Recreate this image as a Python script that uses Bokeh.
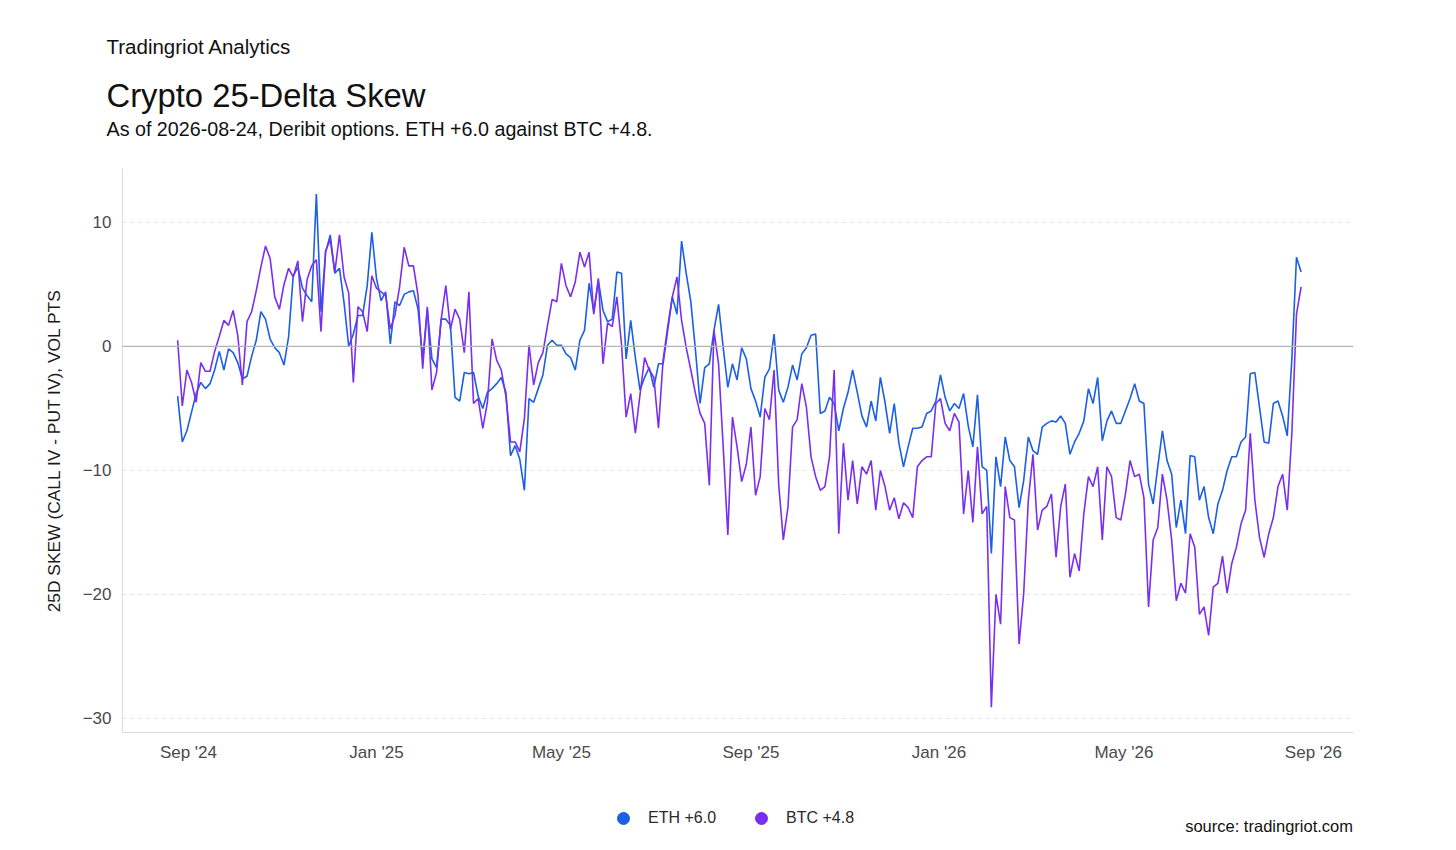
import math
import pandas as pd
from bokeh.plotting import figure
from bokeh.layouts import column
from bokeh.models import (Range1d, FixedTicker, DatetimeTickFormatter, Span, Title, Label,
                          Legend, LegendItem)
from bokeh.embed import file_html
from bokeh.resources import INLINE

# ---------------- data (one value every 3 days) ----------------
START_DATE = "2024-08-25"
STEP = "3D"

eth_skew = [
    -4.0, -7.7, -6.8, -5.3, -3.8, -2.9, -3.4, -3.0, -1.9, -0.4,
    -1.9, -0.2, -0.5, -1.3, -2.6, -2.4, -0.8, 0.5, 2.8, 2.2,
    0.6, -0.1, -0.5, -1.5, 0.8, 5.7, 6.4, 4.7, 4.1, 3.6,
    12.3, 2.8, 7.6, 9.0, 5.9, 6.3, 3.5, 0.0, 1.0, 2.5,
    2.5, 4.9, 9.2, 5.5, 3.7, 4.4, 0.2, 3.6, 3.3, 4.2,
    4.4, 4.5, 3.0, -1.0, 3.0, -1.0, -1.7, 2.2, 2.2, 1.7,
    -4.1, -4.4, -2.1, -2.2, -2.1, -4.0, -5.0, -3.7, -3.4, -3.0,
    -2.5, -3.7, -8.8, -8.0, -9.1, -11.6, -4.2, -4.5, -3.4, -2.3,
    0.1, 0.5, 0.1, 0.1, -0.6, -0.9, -1.9, 0.5, 1.3, 5.1,
    2.8, 5.3, 2.9, 2.0, 2.2, 6.0, 5.9, -1.0, 2.1, -0.9,
    -3.5, -2.5, -1.7, -3.3, -1.4, -1.4, 1.3, 4.0, 2.6, 8.5,
    5.9, 3.6, -0.3, -4.6, -1.7, -1.4, 1.3, 3.4, -0.1, -3.3,
    -1.4, -2.7, -0.1, -1.0, -3.4, -4.4, -5.7, -2.5, -1.8, 1.0,
    -3.5, -4.5, -3.3, -1.5, -2.7, -0.6, -0.1, 0.9, 1.0, -5.4,
    -5.2, -4.1, -4.6, -6.8, -5.0, -3.7, -1.9, -3.7, -5.6, -6.5,
    -4.4, -6.0, -2.5, -4.5, -7.0, -4.6, -7.8, -9.7, -8.1, -6.6,
    -6.6, -6.5, -5.4, -5.2, -4.4, -2.3, -4.1, -5.2, -4.6, -5.0,
    -3.8, -6.4, -8.1, -3.9, -9.7, -10.0, -16.7, -8.9, -11.3, -7.3,
    -9.2, -9.7, -13.0, -10.8, -7.3, -8.4, -8.7, -6.5, -6.2, -6.0,
    -6.1, -5.6, -6.2, -8.7, -7.7, -7.0, -6.0, -3.4, -4.6, -2.5,
    -7.6, -6.0, -5.2, -6.2, -6.2, -5.2, -4.2, -3.0, -4.4, -4.6,
    -11.1, -12.7, -9.7, -6.8, -9.2, -10.3, -14.6, -12.4, -15.1, -8.8,
    -8.9, -12.4, -11.3, -13.8, -15.1, -12.7, -11.6, -10.0, -8.9, -8.9,
    -7.7, -7.3, -2.2, -2.1, -4.9, -7.7, -7.8, -4.6, -4.4, -5.6,
    -7.2, -1.0, 7.2, 6.0,
]

btc_skew = [
    0.5, -4.8, -1.9, -2.9, -4.5, -1.3, -2.0, -2.0, -0.4, 0.8,
    2.1, 1.7, 2.9, 0.9, -3.1, 2.0, 2.8, 4.5, 6.4, 8.1,
    7.1, 4.0, 3.0, 5.0, 6.3, 5.6, 6.9, 2.0, 5.4, 6.5,
    7.0, 1.2, 7.7, 8.6, 6.0, 9.0, 5.6, 4.3, -2.9, 3.2,
    2.8, 1.2, 5.7, 4.7, 4.4, 4.1, 1.4, 2.5, 4.8, 8.0,
    6.5, 6.5, 4.1, -1.8, 3.2, -3.5, -2.1, 2.2, 4.9, 1.4,
    3.0, 2.2, -0.5, 4.4, -4.6, -4.2, -6.6, -4.5, 0.6, -1.1,
    -1.9, -4.0, -7.7, -7.7, -8.5, -5.8, 0.1, -3.1, -1.3, -0.5,
    1.7, 3.8, 3.6, 6.7, 4.9, 4.0, 5.2, 7.6, 6.4, 7.6,
    2.6, 5.5, -1.4, 1.9, 1.6, 4.0, 0.2, -5.7, -3.8, -7.0,
    -3.9, -0.9, -1.9, -2.5, -6.6, -1.1, 1.6, 4.0, 5.6, 2.1,
    -0.1, -1.9, -3.8, -5.4, -6.2, -11.2, 1.3, -1.4, -8.1, -15.2,
    -5.7, -8.1, -10.9, -9.5, -6.5, -12.0, -10.5, -5.0, -5.9, -1.9,
    -11.1, -15.6, -13.0, -6.5, -5.9, -3.0, -4.9, -8.9, -10.5, -11.6,
    -11.3, -8.9, -1.9, -15.1, -7.8, -12.4, -9.2, -12.7, -9.7, -10.3,
    -9.2, -13.2, -10.0, -11.3, -13.2, -12.2, -13.9, -12.6, -13.0, -13.8,
    -9.7, -9.2, -8.9, -8.9, -4.6, -4.2, -6.2, -6.8, -5.4, -6.1,
    -13.5, -10.0, -14.2, -8.1, -13.5, -12.9, -29.1, -20.0, -22.4, -11.3,
    -13.8, -14.0, -24.0, -19.9, -12.4, -8.7, -14.8, -13.2, -12.9, -11.9,
    -17.0, -12.9, -11.1, -18.6, -16.7, -18.1, -13.5, -10.5, -11.3, -9.7,
    -15.6, -9.7, -10.5, -13.8, -14.0, -11.9, -9.2, -10.5, -10.3, -12.2,
    -21.0, -15.6, -14.6, -10.3, -12.4, -15.6, -20.5, -19.1, -19.9, -15.1,
    -16.2, -21.6, -21.0, -23.3, -19.4, -19.1, -16.9, -19.9, -17.5, -16.2,
    -14.3, -13.2, -7.0, -12.4, -15.4, -17.0, -15.1, -13.8, -11.3, -10.3,
    -13.2, -7.0, 2.6, 4.8,
]

series_names = ["ETH +6.0", "BTC +4.8"]
series_colors = ["#1a5fe6", "#7a2ff0"]

y_ticks = [10, 0, -10, -20, -30]
y_tick_labels = ["10", "0", "\u221210", "\u221220", "\u221230"]
x_tick_dates = ["2024-09-01", "2025-01-01", "2025-05-01", "2025-09-01",
                "2026-01-01", "2026-05-01", "2026-09-01"]

header = "Tradingriot Analytics"
title_text = "Crypto 25-Delta Skew"
subtitle_text = "As of 2026-08-24, Deribit options. ETH +6.0 against BTC +4.8."
y_label = "25D SKEW (CALL IV - PUT IV), VOL PTS"
source_text = "source: tradingriot.com"

# ---------------- layout constants ----------------
FONT = "Liberation Sans"
W = 1456
MAIN_H = 768      # titles + chart + x axis
FOOT_H = 82       # legend + source strip
BL, BR = 122, 103

dates = pd.date_range(START_DATE, periods=len(eth_skew), freq=STEP)

p = figure(width=W, height=MAIN_H, output_backend="svg", toolbar_location=None,
           x_axis_type="datetime",
           x_range=Range1d(pd.Timestamp("2024-07-20 05:00"), pd.Timestamp("2026-09-27")),
           y_range=Range1d(-31.13, 14.35),
           min_border_left=BL, min_border_right=BR, min_border_top=168, min_border_bottom=36)
p.title_location = None
p.outline_line_color = None
p.background_fill_color = "white"
p.border_fill_color = "white"

p.xgrid.visible = False
p.ygrid.ticker = FixedTicker(ticks=y_ticks)
p.ygrid.grid_line_color = "#e4e4e4"
p.ygrid.grid_line_dash = "4 4"
p.ygrid.grid_line_width = 1

p.add_layout(Span(location=0, dimension="width", line_color="#b4b4b4", line_width=1.2))

for ax in (p.xaxis[0], p.yaxis[0]):
    ax.axis_line_color = "#dcdcdc"
    ax.major_tick_line_color = None
    ax.minor_tick_line_color = None
    ax.major_tick_out = 0
    ax.major_tick_in = 0
    ax.major_label_text_font = FONT
    ax.major_label_text_font_size = "17px"
    ax.major_label_text_color = "#4a4a4a"

p.yaxis.ticker = FixedTicker(ticks=y_ticks)
p.yaxis.major_label_overrides = {t: lab for t, lab in zip(y_ticks, y_tick_labels)}
p.yaxis.major_label_standoff = 11
p.yaxis.axis_label = y_label
p.yaxis.axis_label_text_font = FONT
p.yaxis.axis_label_text_font_size = "17.4px"
p.yaxis.axis_label_text_font_style = "normal"
p.yaxis.axis_label_text_color = "#1a1a1a"
p.yaxis.axis_label_standoff = 16

p.xaxis.ticker = FixedTicker(ticks=[pd.Timestamp(d).value / 1e6 for d in x_tick_dates])
fmt = "%b '%y"
p.xaxis.formatter = DatetimeTickFormatter(years=fmt, months=fmt, days=fmt, hours=fmt,
                                          minutes=fmt, seconds=fmt, milliseconds=fmt,
                                          microseconds=fmt, hourmin=fmt, minsec=fmt)
p.xaxis.major_label_standoff = 10

p.line(dates, eth_skew, line_color=series_colors[0], line_width=1.6)
p.line(dates, btc_skew, line_color=series_colors[1], line_width=1.6)


def title(text, size, standoff):
    return Title(text=text, align="left", vertical_align="top", offset=-16,
                 standoff=standoff, text_font=FONT, text_font_size=size,
                 text_font_style="normal", text_color="#111111")


# titles (above; the first one sits next to the plot frame)
p.add_layout(title(" ", "10px", 13.8), "above")                 # gap above the frame
p.add_layout(title(subtitle_text, "19.7px", 0), "above")
p.add_layout(title(title_text, "32.8px", 3.4), "above")
p.add_layout(title(header, "20.5px", 31.1), "above")

# ---------------- footer strip: legend + source ----------------
# its frame is aligned with the chart's frame (x 122..1353), data units = pixels
foot = figure(width=W, height=FOOT_H, output_backend="svg", toolbar_location=None,
              x_range=Range1d(BL, W - BR), y_range=Range1d(FOOT_H, 0),
              x_axis_location=None, y_axis_location=None,
              min_border=0, min_border_left=0, min_border_right=0,
              min_border_top=0, min_border_bottom=0)
foot.title_location = None
foot.grid.visible = False
foot.outline_line_color = None
foot.background_fill_color = "white"
foot.border_fill_color = "white"

nan = [math.nan]
r_eth = foot.scatter(x=nan, y=nan, marker="circle", fill_color=series_colors[0],
                     line_color=series_colors[0])
r_btc = foot.scatter(x=nan, y=nan, marker="circle", fill_color=series_colors[1],
                     line_color=series_colors[1])
legend = Legend(items=[LegendItem(label=series_names[0], renderers=[r_eth]),
                       LegendItem(label=series_names[1], renderers=[r_btc])],
                orientation="horizontal", location=(486, 17),
                glyph_width=30, glyph_height=30, label_standoff=10, label_width=81,
                spacing=17, padding=0, margin=0, border_line_color=None,
                background_fill_alpha=0, label_text_font=FONT,
                label_text_font_size="16px", label_text_color="#2a2a2a")
foot.add_layout(legend)
foot.add_layout(Label(x=W - BR - 0.5, y=57, text=source_text, text_font=FONT,
                      text_font_size="16.5px", text_align="right", text_baseline="middle",
                      text_color="#111111"))

layout = column(p, foot, spacing=0)
open("out.html", "w").write(file_html(layout, INLINE))
